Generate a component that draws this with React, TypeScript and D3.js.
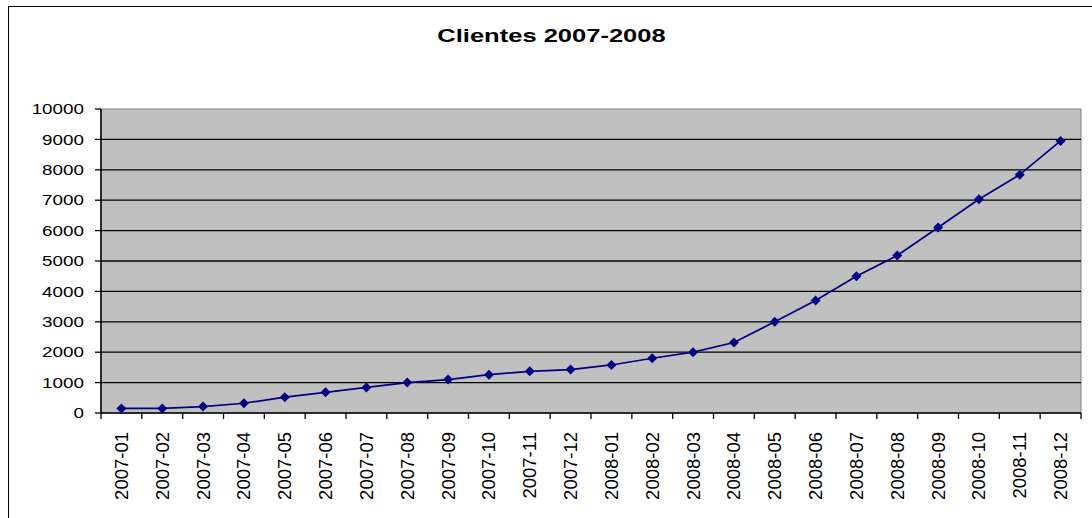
import React from "react";
import * as d3 from "d3";

const months: string[] = [
  "2007-01", "2007-02", "2007-03", "2007-04", "2007-05", "2007-06",
  "2007-07", "2007-08", "2007-09", "2007-10", "2007-11", "2007-12",
  "2008-01", "2008-02", "2008-03", "2008-04", "2008-05", "2008-06",
  "2008-07", "2008-08", "2008-09", "2008-10", "2008-11", "2008-12",
];
const clientes: number[] = [
  150, 150, 210, 320, 520, 680, 840, 1000, 1100, 1260, 1370, 1430,
  1580, 1800, 2000, 2320, 3000, 3700, 4500, 5180, 6100, 7030, 7840, 8950,
];
const yTicks: number[] = [0, 1000, 2000, 3000, 4000, 5000, 6000, 7000, 8000, 9000, 10000];
const title = "Clientes 2007-2008";

const W = 1092;
const H = 518;
const L = 101, R = 1081, T = 109, B = 413;
const FONT = "'Liberation Sans', Arial, sans-serif";

export default function App() {
  const x = d3.scaleBand<string>().domain(months).range([L, R]).paddingInner(0).paddingOuter(0);
  const y = d3.scaleLinear().domain([0, 10000]).range([B, T]);
  const cx = (m: string) => (x(m) as number) + x.bandwidth() / 2;
  const line = d3
    .line<number>()
    .x((_, i) => cx(months[i]))
    .y((d) => y(d));
  const marker = d3.symbol().type(d3.symbolSquare).size(50)() as string;
  const boundaries = months.map((m) => x(m) as number).concat([R]);

  return (
    <svg
      width={W}
      height={H}
      style={{ position: "absolute", left: 0, top: 0, background: "#fff" }}
      fontFamily={FONT}
    >
      <rect x={8.5} y={6.5} width={1200} height={600} fill="#fff" stroke="#000" strokeWidth={1} />
      <text
        transform="translate(551.5,42) scale(1.38,1)"
        textAnchor="middle"
        fontSize={18.5}
        fontWeight="bold"
        fill="#000"
      >
        {title}
      </text>
      <rect x={L} y={T} width={R - L} height={B - T} fill="#c0c0c0" stroke="#808080" strokeWidth={1} />
      {yTicks.filter((t) => t > 0 && t < 10000).map((t) => (
        <line key={"g" + t} x1={L} x2={R} y1={y(t)} y2={y(t)} stroke="#000" strokeWidth={1.3} />
      ))}
      {/* left axis */}
      <line x1={L} x2={L} y1={T} y2={B} stroke="#000" strokeWidth={1.5} />
      {yTicks.map((t) => (
        <g key={"yt" + t}>
          <line x1={L - 6} x2={L} y1={y(t)} y2={y(t)} stroke="#000" strokeWidth={1.3} />
          <text
            transform={`translate(84,${y(t)}) scale(1.3,1)`}
            dy="0.36em"
            textAnchor="end"
            fontSize={14.5}
            fill="#000"
          >
            {t}
          </text>
        </g>
      ))}
      {/* bottom axis */}
      <line x1={L} x2={R} y1={B} y2={B} stroke="#000" strokeWidth={1.5} />
      {boundaries.map((b, i) => (
        <line key={"xt" + i} x1={b} x2={b} y1={B} y2={B + 6} stroke="#000" strokeWidth={1.3} />
      ))}
      {months.map((m) => (
        <text
          key={"xl" + m}
          transform={`translate(${cx(m)},432) rotate(-90)`}
          dy="0.35em"
          textAnchor="end"
          fontSize={18.5}
          fill="#000"
        >
          {m}
        </text>
      ))}
      <path d={line(clientes) as string} fill="none" stroke="#000080" strokeWidth={1.7} />
      {clientes.map((v, i) => (
        <path
          key={"m" + i}
          d={marker}
          transform={`translate(${cx(months[i])},${y(v)}) rotate(45)`}
          fill="#000080"
        />
      ))}
    </svg>
  );
}
